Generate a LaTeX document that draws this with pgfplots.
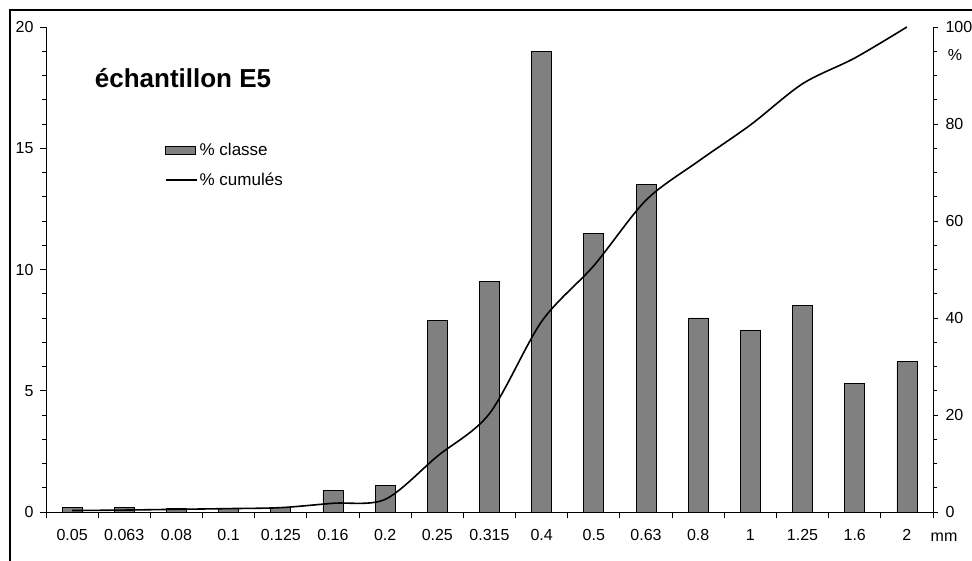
\documentclass[border=0pt]{standalone}
\usepackage{fontspec}
\setmainfont{Liberation Sans}
\usepackage{pgfplots}
\pgfplotsset{compat=1.18}
\definecolor{bargray}{RGB}{128,128,128}
\begin{document}
\begin{tikzpicture}
\useasboundingbox (-46pt,-48pt) rectangle (926pt,512pt);
\draw[line width=1.1pt] (-36pt,-60pt) -- (-36pt,502pt) -- (940pt,502pt);
\begin{axis}[
  scale only axis, width=887pt, height=485pt,
  at={(0pt,0pt)}, anchor=south west,
  xmin=-0.5, xmax=16.5, ymin=0, ymax=20,
  axis x line*=bottom, axis y line*=left,
  axis line style={line width=0.9pt},
  xtick={-0.5,0.5,...,16.5},
  xticklabels={},
  extra x ticks={0,...,16},
  extra x tick labels={0.05,0.063,0.08,0.1,0.125,0.16,0.2,0.25,0.315,0.4,0.5,0.63,0.8,1,1.25,1.6,2},
  extra x tick style={major tick length=0pt, xticklabel style={yshift=-14pt}},
  ytick={0,5,...,20}, minor ytick={0,1,...,20},
  tick align=outside,
  major tick length=6pt, minor tick length=4pt,
  tick style={line width=0.9pt, black},
  ticklabel style={font=\fontsize{16}{19}\selectfont},
  yticklabel style={xshift=-3pt},
  /pgf/number format/assume math mode=true,
  clip=false,
]
\addplot[ybar, bar width=20pt, fill=bargray, draw=black, line width=0.8pt] coordinates {
(0,0.2) (1,0.2) (2,0.15) (3,0.15) (4,0.2) (5,0.9) (6,1.1) (7,7.9) (8,9.5)
(9,19.0) (10,11.5) (11,13.5) (12,8.0) (13,7.5) (14,8.5) (15,5.3) (16,6.2)};
\end{axis}
\begin{axis}[
  scale only axis, width=887pt, height=485pt,
  at={(0pt,0pt)}, anchor=south west,
  xmin=-0.5, xmax=16.5, ymin=0, ymax=100,
  axis x line=none, axis y line*=right,
  axis line style={line width=0.9pt},
  ytick={0,20,...,100}, minor ytick={0,5,...,100},
  tick align=outside,
  major tick length=5pt, minor tick length=4pt,
  tick style={line width=0.9pt, black},
  ticklabel style={font=\fontsize{16}{19}\selectfont},
  yticklabel style={xshift=4pt},
  /pgf/number format/assume math mode=true,
  legend style={at={(axis description cs:0.134,0.765)}, anchor=north west,
    draw=none, fill=none, inner sep=0pt, row sep=12pt,
    font=\fontsize{17}{20}\selectfont},
  legend cell align=left,
]
\addlegendimage{legend image code/.code={\draw[fill=bargray,draw=black,line width=0.8pt] (0pt,-4pt) rectangle (30pt,4pt);}}
\addlegendentry{\% classe}
\addplot[black, line width=1.6pt, smooth, tension=0.5,
  legend image code/.code={\draw[black,line width=1.6pt] (0pt,0pt) -- (31pt,0pt);}] coordinates {
(0,0.3) (1,0.4) (2,0.55) (3,0.7) (4,0.9) (5,1.8) (6,2.6) (7,11.5) (8,20.3)
(9,39.3) (10,50.8) (11,64.3) (12,72.3) (13,79.8) (14,88.3) (15,93.6) (16,100)};
\addlegendentry{\% cumulés}
\end{axis}
\node[font=\fontsize{26}{30}\selectfont\bfseries] at (137pt,434pt) {échantillon E5};
\node[font=\fontsize{16}{19}\selectfont] at (909pt,457pt) {\%};
\node[font=\fontsize{16}{19}\selectfont] at (898pt,-25pt) {mm};
\end{tikzpicture}
\end{document}
